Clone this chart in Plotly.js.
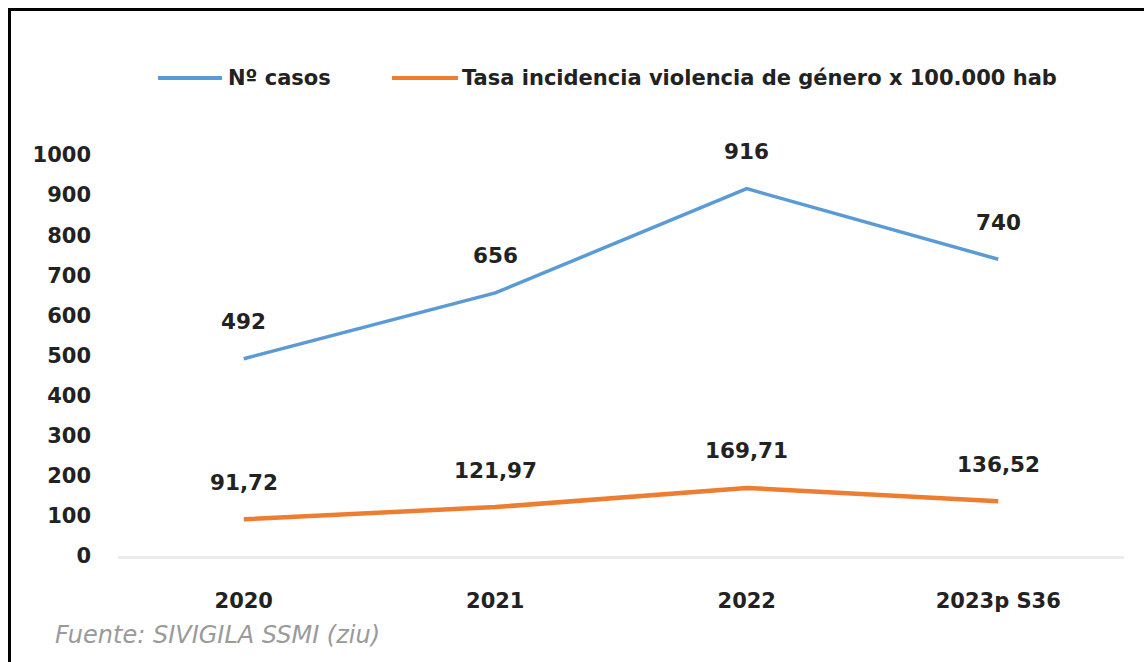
<!DOCTYPE html>
<html>
<head>
<meta charset="utf-8">
<script src="https://cdn.plot.ly/plotly-3.0.1.min.js"></script>
<style>
html,body{margin:0;padding:0;background:#fff;}
#chart{position:absolute;left:0;top:0;width:1144px;height:662px;}
#frame{position:absolute;left:8px;top:8px;width:1144px;height:700px;border-left:3px solid #000;border-top:3px solid #000;pointer-events:none;}
</style>
</head>
<body>
<div id="chart"></div>
<div id="frame"></div>
<script>
const categories = ["2020", "2021", "2022", "2023p S36"];
const casos = [492, 656, 916, 740];
const tasa = [91.72, 121.97, 169.71, 136.52];
const seriesNames = ["Nº casos", "Tasa incidencia violencia de género x 100.000 hab"];
const colors = ["#5B9BD5", "#ED7D31"];
const yTicks = [0,100,200,300,400,500,600,700,800,900,1000];
const source = "Fuente: SIVIGILA SSMI (ziu)";

const W = 1144, H = 662;
const L = 118, R = 20, T = 155, B = 106;
const pw = W - L - R, ph = H - T - B;
const px = x => (x - L) / pw;
const py = y => (H - B - y) / ph;

function fmt(v){ return Number.isInteger(v) ? String(v) : v.toFixed(2).replace('.', ','); }

const series = [casos, tasa];
const traces = series.map((s, i) => ({
  type: 'scatter', mode: 'lines', x: categories, y: s, name: seriesNames[i],
  line: {color: colors[i], width: i === 0 ? 3.5 : 4.5}, showlegend: false, hoverinfo: 'x+y'
}));

const annotations = [];
series.forEach((s, i) => {
  s.forEach((v, j) => {
    annotations.push({x: j, y: v, xref: 'x', yref: 'y', text: fmt(v), showarrow: false,
      yshift: 37, font: {family: 'DejaVu Sans', size: 21.5, color: '#222', weight: 'bold'}});
  });
});

// manual legend
const legendItems = [{x0: 158, x1: 222, tx: 226}, {x0: 392, x1: 458, tx: 460}];
const shapes = [];
legendItems.forEach((it, i) => {
  shapes.push({type: 'line', xref: 'paper', yref: 'paper', x0: px(it.x0), x1: px(it.x1), y0: py(78), y1: py(78),
    line: {color: colors[i], width: 4}});
  annotations.push({xref: 'paper', yref: 'paper', x: px(it.tx), y: py(78), xanchor: 'left', yanchor: 'middle',
    text: seriesNames[i], showarrow: false, font: {family: 'DejaVu Sans', size: 21, color: '#222', weight: 'bold'}});
});
annotations.push({xref: 'paper', yref: 'paper', x: px(53), y: py(635), xanchor: 'left', yanchor: 'middle',
  text: '<i>' + source + '</i>', showarrow: false, font: {family: 'DejaVu Sans', size: 24, color: '#9a9a9a'}});

const layout = {
  width: W, height: H, margin: {l: L, r: R, t: T, b: B}, paper_bgcolor: '#fff', plot_bgcolor: '#fff',
  showlegend: false,
  xaxis: {type: 'category', range: [-0.5, 3.5], showgrid: false, zeroline: false, showline: true,
    linecolor: '#ececec', linewidth: 3, ticks: '', ticklabelstandoff: 24,
    tickfont: {family: 'DejaVu Sans', size: 21, color: '#222', weight: 'bold'}},
  yaxis: {range: [0, 1000], tickvals: yTicks, showgrid: false, zeroline: false, showline: false, ticks: '',
    ticklabelstandoff: 26, tickfont: {family: 'DejaVu Sans', size: 21, color: '#222', weight: 'bold'}},
  shapes: shapes, annotations: annotations
};

Plotly.newPlot('chart', traces, layout, {staticPlot: true, displayModeBar: false});
</script>
</body>
</html>
